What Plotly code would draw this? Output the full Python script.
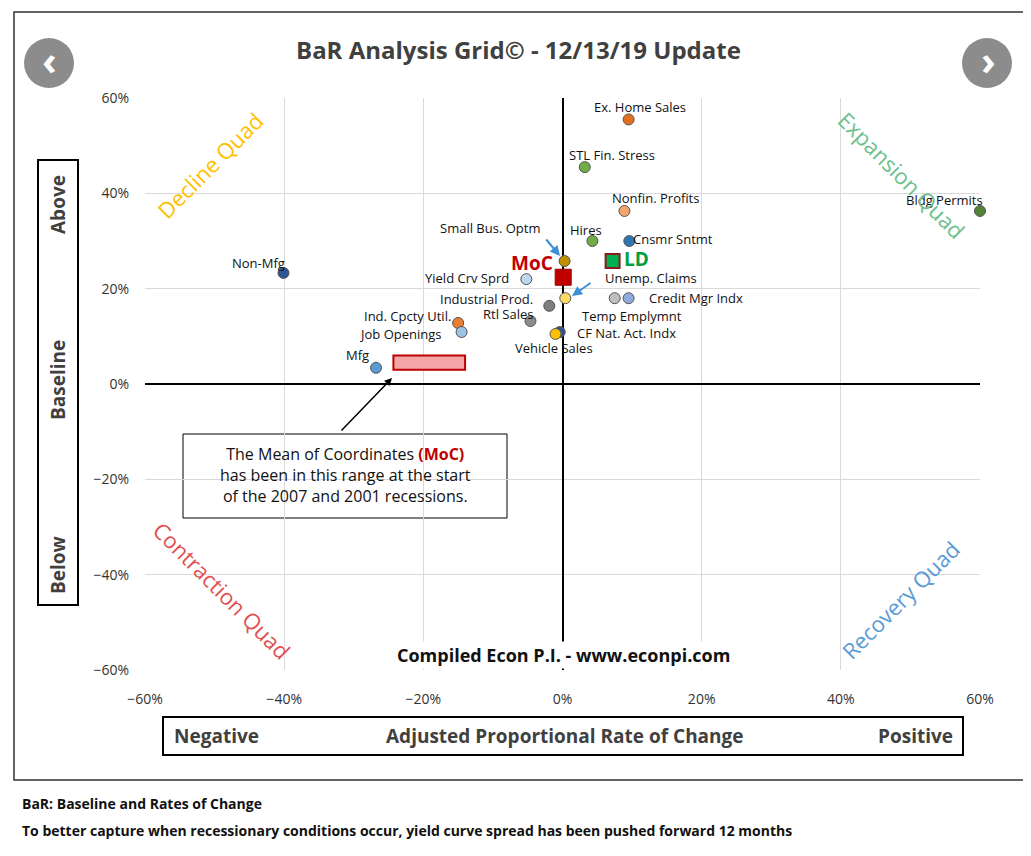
import plotly.graph_objects as go

names = ["Ex. Home Sales","STL Fin. Stress","Nonfin. Profits","Bldg Permits","Hires","Cnsmr Sntmt",
         "Small Bus. Optm","Non-Mfg","Yield Crv Sprd","Unemp. Claims","Credit Mgr Indx (a)","Credit Mgr Indx",
         "Industrial Prod.","Rtl Sales","Ind. Cpcty Util.","Job Openings","CF Nat. Act. Indx","Vehicle Sales","Mfg"]
xs = [9.5,3.2,8.9,60,4.3,9.6,0.3,-40.1,-5.2,0.4,7.5,9.5,-1.9,-4.6,-15,-14.5,-0.4,-1.0,-26.8]
ys = [55.5,45.5,36.3,36.3,30,30,25.8,23.3,22,18,18,18,16.4,13.2,12.8,10.9,10.9,10.5,3.4]
cols = ["#E07020","#70AD47","#F4A46F","#548235","#70AD47","#2E75B6","#BF9000","#2F5597","#BDD7EE","#FFD966",
        "#BFBFBF","#8FAADC","#7F7F7F","#8C8C8C","#ED7D31","#9DC3E6","#2F5597","#FFC000","#5B9BD5"]
moc = (0.1, 22.4)
ld = (7.2, 25.8)
moc_range = (-24.3, -14.0, 3.0, 6.0)

labels = [("Ex. Home Sales",640,107),("STL Fin. Stress",612,155),("Nonfin. Profits",655,198),("Bldg Permits",944,200),
          ("Hires",586,230),("Cnsmr Sntmt",673,239),("Non-Mfg",258,263),("Yield Crv Sprd",467,278),
          ("Unemp. Claims",651,278),("Industrial Prod.",486,299),("Credit Mgr Indx",696,298),("Rtl Sales",508,314),
          ("Ind. Cpcty Util.",407,316),("Temp Emplymnt",632,316),("Job Openings",400,334),
          ("CF Nat. Act. Indx",626,333),("Vehicle Sales",554,348),("Mfg",357,355)]

L, R, T, B = 145, 980, 98, 670
OFF = 8
W, H = 1031, 856
def px(x): return -60 + (x - L) / (R - L) * 120
def py(y): return 60 - (y - T) / (B - T) * 120
def fx(x): return (x - L) / (R - L)
def fy(y): return (B - y) / (B - T)

fig = go.Figure()
fig.add_trace(go.Scatter(x=xs, y=ys, mode="markers", cliponaxis=False,
    marker=dict(size=11, color=cols, line=dict(color="#555", width=1)), hoverinfo="text", text=names))
fig.add_trace(go.Scatter(x=[moc[0]], y=[moc[1]], mode="markers",
    marker=dict(symbol="square", size=16, color="#C00000", line=dict(color="#900", width=1))))
fig.add_trace(go.Scatter(x=[ld[0]], y=[ld[1]], mode="markers",
    marker=dict(symbol="square", size=14, color="#00B050", line=dict(color="#8B1A1A", width=2))))

C = dict(showarrow=False, xanchor="center", yanchor="middle")
ann = []
for t, x, y in labels:
    ann.append(dict(**C, x=px(x), y=py(y), text=t, font=dict(size=13, color="#111")))
ann += [
    dict(**C, x=px(636), y=py(259), text="<b>LD</b>", font=dict(size=19, color="#00A040")),
    dict(**C, x=px(532), y=py(263), text="<b>MoC</b>", font=dict(size=19, color="#C00000")),
    dict(**C, x=px(490), y=py(228), text="Small Bus. Optm", font=dict(size=13, color="#111")),
    dict(x=px(560), y=py(256), ax=px(545), ay=py(238), axref="x", ayref="y", showarrow=True,
         arrowhead=2, arrowcolor="#3C8FD8", arrowwidth=2, text=""),
    dict(x=px(572), y=py(296), ax=px(592), ay=py(282), axref="x", ayref="y", showarrow=True,
         arrowhead=2, arrowcolor="#3C8FD8", arrowwidth=2, text=""),
    dict(x=px(392), y=py(378), ax=px(340), ay=py(432), axref="x", ayref="y", showarrow=True,
         arrowhead=2, arrowcolor="#000", arrowwidth=1.5, text=""),
    dict(**C, x=px(345), y=py(475),
         text="The Mean of Coordinates <b><span style='color:#C00000'>(MoC)</span></b><br>has been in this range at the start<br>of the 2007 and 2001 recessions.",
         font=dict(size=16, color="#111")),
    dict(**C, x=px(563), y=py(655), text="<b>Compiled Econ P.I. - www.econpi.com</b>",
         bgcolor="white", font=dict(size=18, color="#111")),
    dict(**C, x=px(210), y=py(165), text="Decline Quad", textangle=-45, font=dict(size=22, color="#FFC000")),
    dict(**C, x=px(902), y=py(175), text="Expansion Quad", textangle=45, font=dict(size=22, color="#6CC08B")),
    dict(**C, x=px(222), y=py(590), text="Contraction Quad", textangle=45, font=dict(size=22, color="#E05050")),
    dict(**C, x=px(900), y=py(600), text="Recovery Quad", textangle=-45, font=dict(size=22, color="#5B9BD5")),
]
P = dict(xref="paper", yref="paper", showarrow=False, yanchor="middle")
ann += [
    dict(**P, xanchor="center", x=fx(518), y=fy(50), text="<b>BaR Analysis Grid© - 12/13/19 Update</b>", font=dict(size=24, color="#404040")),
    dict(**P, xanchor="center", x=fx(58), y=fy(205), text="<b>Above</b>", textangle=-90, font=dict(size=19, color="#404040")),
    dict(**P, xanchor="center", x=fx(58), y=fy(380), text="<b>Baseline</b>", textangle=-90, font=dict(size=19, color="#404040")),
    dict(**P, xanchor="center", x=fx(58), y=fy(565), text="<b>Below</b>", textangle=-90, font=dict(size=19, color="#404040")),
    dict(**P, x=fx(172), y=fy(736), xanchor="left", text="<b>Negative</b>", font=dict(size=19, color="#404040")),
    dict(**P, xanchor="center", x=fx(565), y=fy(736), text="<b>Adjusted Proportional Rate of Change</b>", font=dict(size=19, color="#404040")),
    dict(**P, x=fx(955), y=fy(736), xanchor="right", text="<b>Positive</b>", font=dict(size=19, color="#404040")),
    dict(**P, x=fx(20), y=fy(803), xanchor="left", text="<b>BaR: Baseline and Rates of Change</b>", font=dict(size=14, color="#111")),
    dict(**P, x=fx(20), y=fy(830), xanchor="left", text="<b>To better capture when recessionary conditions occur, yield curve spread has been pushed forward 12 months</b>", font=dict(size=14, color="#111")),
    dict(**P, xanchor="center", x=fx(49), y=fy(60), text="<b>‹</b>", font=dict(size=40, color="white")),
    dict(**P, xanchor="center", x=fx(988), y=fy(60), text="<b>›</b>", font=dict(size=40, color="white")),
]
S = dict(xref="paper", yref="paper")
shapes = [
    dict(type="rect", **S, x0=fx(14), x1=fx(1024), y0=fy(12), y1=fy(780), line=dict(color="#333", width=1.5)),
    dict(type="rect", **S, x0=fx(38), x1=fx(78), y0=fy(160), y1=fy(605), line=dict(color="#000", width=2)),
    dict(type="rect", **S, x0=fx(163), x1=fx(963), y0=fy(717), y1=fy(755), line=dict(color="#000", width=2)),
    dict(type="rect", x0=px(183), x1=px(507), y0=py(434), y1=py(518), line=dict(color="#000", width=1), fillcolor="white", layer="below"),
    dict(type="circle", **S, x0=fx(24), x1=fx(74), y0=fy(38), y1=fy(88), fillcolor="#8C8C8C", line=dict(width=0)),
    dict(type="circle", **S, x0=fx(962), x1=fx(1012), y0=fy(38), y1=fy(88), fillcolor="#8C8C8C", line=dict(width=0)),
    dict(type="rect", x0=moc_range[0], x1=moc_range[1], y0=moc_range[2], y1=moc_range[3],
         fillcolor="#F4A6A6", line=dict(color="#C00000", width=2)),
]
fig.update_layout(width=W, height=H, margin=dict(l=L-OFF, r=W-(R-OFF), t=T-OFF, b=H-(B-OFF), autoexpand=False),
    showlegend=False, plot_bgcolor="white", paper_bgcolor="white", annotations=ann, shapes=shapes,
    font=dict(family="Open Sans, sans-serif"))
fig.update_xaxes(range=[-60, 60], dtick=20, ticksuffix="%", showgrid=True, gridcolor="#D9D9D9",
    ticks="outside", ticklen=16, tickcolor="rgba(0,0,0,0)",
    zeroline=True, zerolinecolor="#000", zerolinewidth=2, tickfont=dict(size=14, color="#333"), fixedrange=True)
fig.update_yaxes(range=[-60, 60], dtick=20, ticksuffix="%", showgrid=True, gridcolor="#D9D9D9",
    ticks="outside", ticklen=12, tickcolor="rgba(0,0,0,0)",
    zeroline=True, zerolinecolor="#000", zerolinewidth=2, tickfont=dict(size=14, color="#333"), fixedrange=True)
fig.write_html("out.html")
